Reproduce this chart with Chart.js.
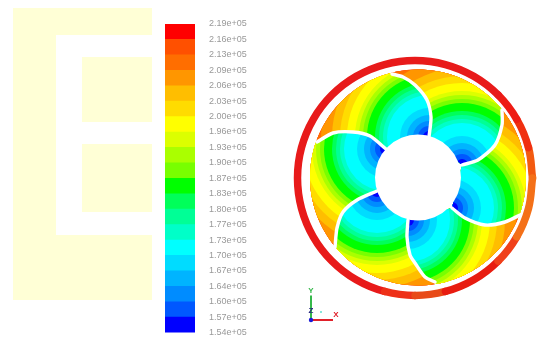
<!DOCTYPE html>
<html><head><meta charset="utf-8">
<script src="https://cdn.jsdelivr.net/npm/chart.js@4"></script>
<style>
html,body{margin:0;padding:0;background:#fff;width:538px;height:337px;overflow:hidden}
canvas{position:absolute;top:0}
#wheel{left:0;filter:blur(0.5px)}
#bar{left:150px;filter:blur(0.4px)}
</style></head><body>
<canvas id="wheel" width="538" height="337"></canvas>
<canvas id="bar" width="110" height="338"></canvas>
<script>
// Colour legend (static pressure contour levels), bottom to top
const contourLevels=[154000,157250,160500,163750,167000,170250,173500,176750,180000,183250,186500,189750,193000,196250,199500,202750,206000,209250,212500,215750,219000];
const tickLabels=['1.54e+05','1.57e+05','1.60e+05','1.64e+05','1.67e+05','1.70e+05','1.73e+05','1.77e+05','1.80e+05','1.83e+05','1.87e+05','1.90e+05','1.93e+05','1.96e+05','2.00e+05','2.03e+05','2.06e+05','2.09e+05','2.13e+05','2.16e+05','2.19e+05'];
const bandColors=['#0000ff','#0058ff','#008cff','#00b4ff','#00dcff','#00ffff','#00ffc8','#00ff96','#00ff5a','#00ff00','#78ff00','#aaff00','#dcff00','#ffff00','#ffdc00','#ffbe00','#ff9600','#ff6e00','#ff5000','#ff0000'];
// How far each contour band reaches from the low-pressure spot of a passage
const bandReach=[6,11,16,22,29,42,46,50,54,62,66,70,74,82,89,97,108,135,150,170];
// Blades, hub end to tip, wheel coordinates
const bladeAX=[-41,-61,-75,-81,-83], bladeAY=[-13.5,-22.5,-34.5,-50.5,-69.5];
const bladeBX=[-32,-48,-65,-85,-101], bladeBY=[28.5,41.5,45.5,44.5,35.5];
const bladeCX=[11,13,9,-3,-15,-26], bladeCY=[40.5,60.5,77.5,92.5,100.5,103.5];
const bladeDX=[44,60,77,84,84], bladeDY=[12.5,17.5,32.5,52.5,67.5];
const bladeEX=[34,47,67,87,104], bladeEY=[-30.5,-40.5,-47.5,-44.5,-36.5];
const bladeFX=[-10,-11,-8,-3,7,17], bladeFY=[-42.5,-59.5,-77.5,-85.5,-99.5,-104.5];
const discRadius=108, hubRadius=43;
// Outer ring
const ringCenter=[-3,-0.5], ringRadius=117.5;
const ringTheta=[0,15,30,45,60,75,90,105,120,135,150,165,180,195,210,225,240,255,270,285,300,315,330,345,360];
const ringColors=['#f35a10','#f03010','#ee1c14','#e81a1a','#e81a1a','#e81a1a','#e81a1a','#e81a1a','#e81a1a','#e81a1a','#e81a1a','#e81a1a','#e81a1a','#e81a1a','#e81a1a','#e81a1a','#e81a1a','#ee3018','#e84a18','#e81c10','#e81c10','#f0401a','#f47018','#f47018'];
// Pale background panel
const panelX=[-405,-266,-266,-405,-405], panelY=[169.5,169.5,-122.5,-122.5,169.5];
const cutX=[-362,-266,-266,-362,-362], cutY=[142.5,142.5,-57.5,-57.5,142.5];
const blockX=[-336,-266,-266,-336,-336];
const blockUpperY=[120.5,120.5,55.5,55.5,120.5], blockLowerY=[33.5,33.5,-34.5,-34.5,33.5];
// Coordinate triad
const triadOrigin=[-107,-142.5];
const triadYEnd=[-107,-118], triadXEnd=[-85,-142.5], triadDot=[-97,-134.5];

const zip=(xs,ys)=>xs.map((x,i)=>({x,y:ys[i]}));
const blades=[zip(bladeAX,bladeAY),zip(bladeBX,bladeBY),zip(bladeCX,bladeCY),zip(bladeDX,bladeDY),zip(bladeEX,bladeEY),zip(bladeFX,bladeFY)];
const tipAngle=p=>Math.atan2(p.y,p.x);
function passagePolygon(i){
  const a=blades[i], b=blades[(i+1)%6];
  let t0=tipAngle(a[a.length-1]), t1=tipAngle(b[b.length-1]);
  while(t1>t0) t1-=2*Math.PI;
  const arc=[];
  for(let k=0;k<=24;k++){const t=t0+(t1-t0)*k/24;arc.push({x:discRadius*Math.cos(t),y:discRadius*Math.sin(t)});}
  return a.concat(arc,b.slice().reverse());
}
const datasets=[];
const poly=(xs,ys,color,order)=>({type:'scatter',showLine:true,data:zip(xs,ys),fill:'shape',backgroundColor:color,borderWidth:0,pointRadius:0,order,clip:false});
datasets.push(poly(panelX,panelY,'#ffffd6',100));
datasets.push(poly(cutX,cutY,'#ffffff',99));
datasets.push(poly(blockX,blockUpperY,'#ffffd6',98));
datasets.push(poly(blockX,blockLowerY,'#ffffd6',97));
for(let i=0;i<6;i++){
  const spot=blades[(i+1)%6][0];
  const idx=bandReach.map((_,k)=>bandReach.length-1-k);
  datasets.push({type:'bubble',order:50,clip:false,passage:passagePolygon(i),
    data:idx.map(k=>({x:spot.x,y:spot.y,r:bandReach[k]})),
    backgroundColor:idx.map(k=>bandColors[k]),borderWidth:0,hoverRadius:0});
}
blades.forEach(b=>datasets.push({type:'scatter',showLine:true,data:b,borderColor:'#fff',borderWidth:3.4,tension:0.25,pointRadius:0,order:20,clip:false,borderCapStyle:'round'}));
datasets.push({type:'bubble',order:15,clip:false,data:[{x:0,y:0,r:hubRadius}],backgroundColor:'#fff',borderWidth:0});
const rad=d=>d*Math.PI/180;
datasets.push({type:'scatter',showLine:true,order:12,clip:false,pointRadius:0,borderWidth:7.5,tension:0.4,borderColor:'#e81a1a',borderCapStyle:'round',
  data:ringTheta.map(t=>({x:ringCenter[0]+ringRadius*Math.cos(rad(t)),y:ringCenter[1]+ringRadius*Math.sin(rad(t))})),
  segment:{borderColor:c=>ringColors[c.p0DataIndex]}});
const seg=(a,b,color,w)=>({type:'scatter',showLine:true,order:5,clip:false,pointRadius:0,borderWidth:w,borderColor:color,data:[{x:a[0],y:a[1]},{x:b[0],y:b[1]}]});
datasets.push(seg(triadOrigin,triadYEnd,'#35b84a',2));
datasets.push(seg(triadOrigin,triadXEnd,'#e0202a',2));
datasets.push({type:'bubble',order:4,clip:false,data:[{x:triadOrigin[0],y:triadOrigin[1],r:2.2}],backgroundColor:'#1a1ad8',borderWidth:0});
datasets.push({type:'bubble',order:4,clip:false,data:[{x:triadDot[0],y:triadDot[1],r:1}],backgroundColor:'#5fe0d0',borderWidth:0});

const passageClip={id:'passageClip',
  beforeDatasetDraw(chart,args){
    const ds=chart.data.datasets[args.index]; if(!ds.passage) return;
    const {x,y}=chart.scales,ctx=chart.ctx;
    ctx.save();ctx.beginPath();
    ds.passage.forEach((p,i)=>{const px=x.getPixelForValue(p.x),py=y.getPixelForValue(p.y);i?ctx.lineTo(px,py):ctx.moveTo(px,py);});
    ctx.closePath();ctx.clip();
  },
  afterDatasetDraw(chart,args){ if(chart.data.datasets[args.index].passage) chart.ctx.restore(); }
};
const triadText={id:'triadText',afterDatasetsDraw(chart){
  const {x,y}=chart.scales,ctx=chart.ctx;
  ctx.save();ctx.font='bold 8px "Liberation Sans"';ctx.textAlign='center';ctx.textBaseline='middle';
  [['Y',triadYEnd[0],triadYEnd[1]+5,'#35b84a'],['Z',triadOrigin[0],triadOrigin[1]+9,'#2a2a80'],['X',triadXEnd[0]+3,triadXEnd[1]+5,'#e0202a']].forEach(([t,a,b,c])=>{
    ctx.fillStyle=c;ctx.fillText(t,x.getPixelForValue(a),y.getPixelForValue(b));});
  ctx.restore();
}};
new Chart(document.getElementById('wheel'),{type:'bubble',data:{datasets},plugins:[passageClip,triadText],
  options:{responsive:false,maintainAspectRatio:false,animation:false,events:[],layout:{padding:0,autoPadding:false},
    plugins:{legend:{display:false},tooltip:{enabled:false}},
    scales:{x:{type:'linear',min:-418,max:120,display:false},y:{type:'linear',min:-159.5,max:177.5,display:false}}}});

new Chart(document.getElementById('bar'),{type:'bar',
  data:{labels:['pressure'],datasets:bandColors.map((c,i)=>({data:[[contourLevels[i],contourLevels[i+1]]],backgroundColor:c,borderWidth:0,grouped:false,barPercentage:1,categoryPercentage:1}))},
  options:{responsive:false,maintainAspectRatio:false,animation:false,events:[],layout:{padding:{left:15,top:24,bottom:0,right:0},autoPadding:false},
    plugins:{legend:{display:false},tooltip:{enabled:false}},
    scales:{
      x:{display:false},
      y:{position:'right',min:154000,max:219000,
        grid:{drawOnChartArea:false,tickLength:14,tickColor:'rgba(0,0,0,0)'},border:{display:false},
        afterBuildTicks:s=>{s.ticks=contourLevels.map(value=>({value}));},
        afterFit:s=>{s.width=65;},
        ticks:{autoSkip:false,padding:0,color:'#999999',font:{family:'"Liberation Sans"',size:9},callback:(v,i)=>tickLabels[i]}
      }
    }}});
</script>
</body></html>
